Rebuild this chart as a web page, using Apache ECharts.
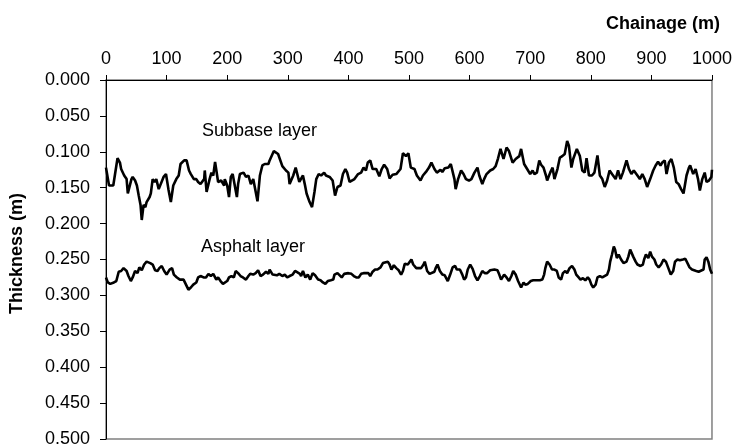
<!DOCTYPE html>
<html>
<head>
<meta charset="utf-8">
<script src="https://cdn.jsdelivr.net/npm/echarts@6/dist/echarts.min.js"></script>
<style>
  html, body { margin: 0; padding: 0; background: #fff; }
  #chart { width: 735px; height: 448px; }
</style>
</head>
<body>
<div id="chart"></div>
<script>
// chainage (m) and layer thickness (m)
var subbaseChainage = [0,5,8,12,14,19,23,25,27,30,34,36,38,42,44,48,51,54,57,59,62,65,67,72,74,77,80,83,87,95,99,103,107,111,116,120,123,129,133,137,140,145,149,152,156,162,163,166,171,174,177,180,185,190,195,196,200,203,206,209,216,218,221,227,231,235,239,243,250,254,258,262,268,270,277,284,291,297,301,303,309,313,319,325,328,331,336,340,344,347,351,355,360,363,369,374,378,382,387,391,395,398,402,405,410,416,421,425,429,432,436,440,446,451,455,459,464,468,473,479,486,490,495,499,503,509,513,519,523,528,533,537,542,546,552,555,559,565,569,572,575,577,581,586,590,594,599,603,608,613,616,621,624,628,634,639,643,647,651,656,661,665,671,676,682,685,690,695,700,704,707,711,715,718,722,726,728,733,737,740,745,749,753,757,761,764,768,771,777,782,786,790,793,797,802,806,811,815,819,823,827,831,835,841,845,849,853,859,863,867,871,877,881,885,889,893,898,903,907,911,915,918,922,925,929,933,937,941,945,949,953,958,962,964,969,973,977,980,984,988,991,995,999,1000];
var subbaseThickness = [0.122,0.147,0.149,0.147,0.149,0.109,0.115,0.124,0.122,0.133,0.138,0.158,0.156,0.138,0.135,0.140,0.147,0.161,0.174,0.195,0.174,0.177,0.170,0.163,0.158,0.138,0.142,0.138,0.152,0.135,0.131,0.152,0.170,0.147,0.138,0.133,0.117,0.112,0.112,0.126,0.131,0.138,0.138,0.142,0.145,0.138,0.126,0.156,0.138,0.129,0.133,0.114,0.142,0.140,0.147,0.138,0.147,0.163,0.135,0.131,0.163,0.145,0.131,0.129,0.135,0.133,0.145,0.138,0.169,0.133,0.119,0.117,0.117,0.112,0.099,0.103,0.120,0.126,0.129,0.145,0.133,0.122,0.142,0.133,0.145,0.158,0.170,0.177,0.156,0.138,0.131,0.133,0.129,0.133,0.135,0.140,0.161,0.149,0.147,0.131,0.124,0.129,0.142,0.142,0.138,0.131,0.129,0.122,0.126,0.115,0.112,0.124,0.124,0.134,0.124,0.118,0.124,0.137,0.132,0.131,0.124,0.102,0.106,0.102,0.122,0.124,0.133,0.140,0.133,0.128,0.122,0.115,0.124,0.129,0.125,0.128,0.123,0.122,0.117,0.117,0.138,0.152,0.138,0.126,0.131,0.138,0.140,0.138,0.129,0.122,0.133,0.145,0.138,0.131,0.126,0.124,0.120,0.109,0.096,0.110,0.094,0.099,0.115,0.110,0.106,0.096,0.117,0.124,0.131,0.126,0.131,0.129,0.112,0.118,0.122,0.133,0.140,0.129,0.122,0.138,0.124,0.108,0.106,0.103,0.085,0.092,0.122,0.110,0.096,0.106,0.126,0.129,0.109,0.133,0.133,0.129,0.105,0.133,0.138,0.149,0.140,0.126,0.131,0.138,0.126,0.138,0.129,0.112,0.124,0.131,0.126,0.133,0.138,0.131,0.138,0.149,0.138,0.126,0.119,0.114,0.119,0.115,0.112,0.131,0.115,0.110,0.122,0.142,0.145,0.152,0.158,0.133,0.122,0.119,0.131,0.124,0.138,0.154,0.138,0.129,0.142,0.140,0.135,0.125];

var asphaltChainage = [0,3,7,13,17,21,25,29,34,37,41,44,48,52,55,59,63,67,73,77,81,85,88,92,96,100,105,109,112,117,122,128,132,136,140,144,149,152,156,161,165,169,173,177,182,185,189,193,196,200,203,207,211,214,218,222,226,231,235,238,243,247,251,255,259,264,268,270,275,278,282,286,291,295,299,303,308,312,315,320,322,325,329,333,337,341,345,350,354,358,362,366,371,375,377,382,385,389,393,396,400,405,409,413,417,421,425,429,433,436,440,444,448,453,457,460,465,468,471,475,479,483,487,490,493,498,500,504,507,512,515,520,524,526,530,534,537,542,544,547,551,555,559,564,568,572,576,579,581,584,588,591,594,597,601,605,609,613,617,621,625,629,634,637,641,646,649,652,657,661,665,669,672,676,680,683,685,689,692,696,701,705,710,716,720,723,725,728,732,736,740,744,747,751,754,758,761,765,769,773,776,780,783,787,791,795,798,801,804,808,811,815,819,822,827,830,832,835,838,840,843,846,850,854,859,862,865,870,874,877,882,886,888,891,895,898,901,905,908,912,916,920,924,928,932,936,939,943,947,952,956,958,963,967,969,974,978,981,986,988,991,994,997,1000];
var asphaltThickness = [0.275,0.282,0.284,0.282,0.280,0.267,0.266,0.262,0.266,0.273,0.280,0.275,0.266,0.269,0.261,0.265,0.257,0.253,0.255,0.257,0.265,0.266,0.262,0.259,0.266,0.271,0.264,0.262,0.271,0.275,0.278,0.278,0.285,0.292,0.289,0.285,0.282,0.275,0.273,0.275,0.275,0.270,0.273,0.270,0.278,0.275,0.280,0.284,0.282,0.280,0.275,0.273,0.275,0.266,0.269,0.273,0.275,0.278,0.273,0.270,0.271,0.269,0.265,0.273,0.271,0.267,0.270,0.264,0.271,0.269,0.272,0.270,0.273,0.271,0.275,0.273,0.271,0.266,0.265,0.270,0.273,0.266,0.275,0.271,0.278,0.269,0.272,0.278,0.279,0.282,0.284,0.280,0.279,0.278,0.271,0.269,0.271,0.275,0.270,0.272,0.269,0.270,0.273,0.275,0.275,0.270,0.269,0.269,0.269,0.273,0.267,0.264,0.264,0.261,0.255,0.253,0.253,0.257,0.264,0.258,0.262,0.265,0.271,0.266,0.256,0.257,0.255,0.250,0.257,0.262,0.261,0.262,0.257,0.253,0.266,0.270,0.271,0.267,0.262,0.257,0.266,0.271,0.272,0.280,0.271,0.261,0.259,0.264,0.262,0.264,0.271,0.278,0.275,0.264,0.257,0.263,0.273,0.279,0.273,0.266,0.269,0.269,0.265,0.263,0.264,0.265,0.271,0.278,0.271,0.275,0.280,0.273,0.266,0.271,0.280,0.282,0.289,0.282,0.285,0.284,0.280,0.279,0.279,0.279,0.278,0.271,0.262,0.253,0.257,0.264,0.264,0.266,0.275,0.278,0.269,0.266,0.269,0.262,0.259,0.264,0.271,0.275,0.278,0.276,0.279,0.275,0.278,0.285,0.289,0.285,0.275,0.273,0.275,0.276,0.271,0.264,0.253,0.243,0.232,0.236,0.248,0.243,0.250,0.255,0.253,0.246,0.236,0.246,0.253,0.257,0.259,0.257,0.250,0.243,0.248,0.239,0.246,0.250,0.257,0.261,0.257,0.250,0.253,0.262,0.271,0.266,0.253,0.250,0.251,0.250,0.249,0.250,0.261,0.264,0.263,0.266,0.267,0.265,0.264,0.250,0.247,0.253,0.264,0.270];

var FONT = '"Liberation Sans", Arial, sans-serif';

function pairs(xs, ys) {
  var out = [];
  for (var i = 0; i < xs.length; i++) out.push([xs[i], ys[i]]);
  return out;
}

var chart = echarts.init(document.getElementById('chart'));

var option = {
  animation: false,
  backgroundColor: '#fff',
  title: {
    text: 'Chainage (m)',
    right: 15,
    top: 15,
    padding: 0,
    textStyle: { fontFamily: FONT, fontSize: 18, fontWeight: 'bold', color: '#000' }
  },
  grid: {
    left: 104, right: 23, top: 80, bottom: 5,
    show: true, borderColor: '#808080', borderWidth: 1.5, backgroundColor: 'transparent'
  },
  xAxis: {
    type: 'value',
    position: 'top',
    min: 0, max: 1000, interval: 100,
    axisLine: { show: true, lineStyle: { color: '#000', width: 1 } },
    axisTick: { show: true, length: 5, lineStyle: { color: '#000' } },
    axisLabel: {
      fontFamily: FONT, fontSize: 18, color: '#000', margin: 12,
      formatter: function (v) { return String(v); }
    },
    splitLine: { show: false }
  },
  yAxis: {
    type: 'value',
    inverse: true,
    min: 0, max: 0.5, interval: 0.05,
    name: 'Thickness (m)',
    nameLocation: 'middle',
    nameRotate: 90,
    nameGap: 80,
    nameTextStyle: { fontFamily: FONT, fontSize: 18, fontWeight: 'bold', color: '#000', padding: [0, 0, 0, 12] },
    axisLine: { show: true, lineStyle: { color: '#000', width: 1 } },
    axisTick: { show: true, length: 6, lineStyle: { color: '#000' } },
    axisLabel: {
      fontFamily: FONT, fontSize: 18, color: '#000', margin: 16,
      formatter: function (v) { return v.toFixed(3); }
    },
    splitLine: { show: false }
  },
  graphic: [
    { type: 'text', left: 202, top: 122,
      style: { text: 'Subbase layer', font: '18px ' + FONT, fill: '#000' } },
    { type: 'text', left: 201, top: 238,
      style: { text: 'Asphalt layer', font: '18px ' + FONT, fill: '#000' } }
  ],
  series: [
    {
      name: 'Subbase layer',
      type: 'line',
      data: pairs(subbaseChainage, subbaseThickness),
      showSymbol: false,
      lineStyle: { color: '#000', width: 2.6 }
    },
    {
      name: 'Asphalt layer',
      type: 'line',
      data: pairs(asphaltChainage, asphaltThickness),
      showSymbol: false,
      lineStyle: { color: '#000', width: 2.6 }
    }
  ]
};

chart.setOption(option);
</script>
</body>
</html>
